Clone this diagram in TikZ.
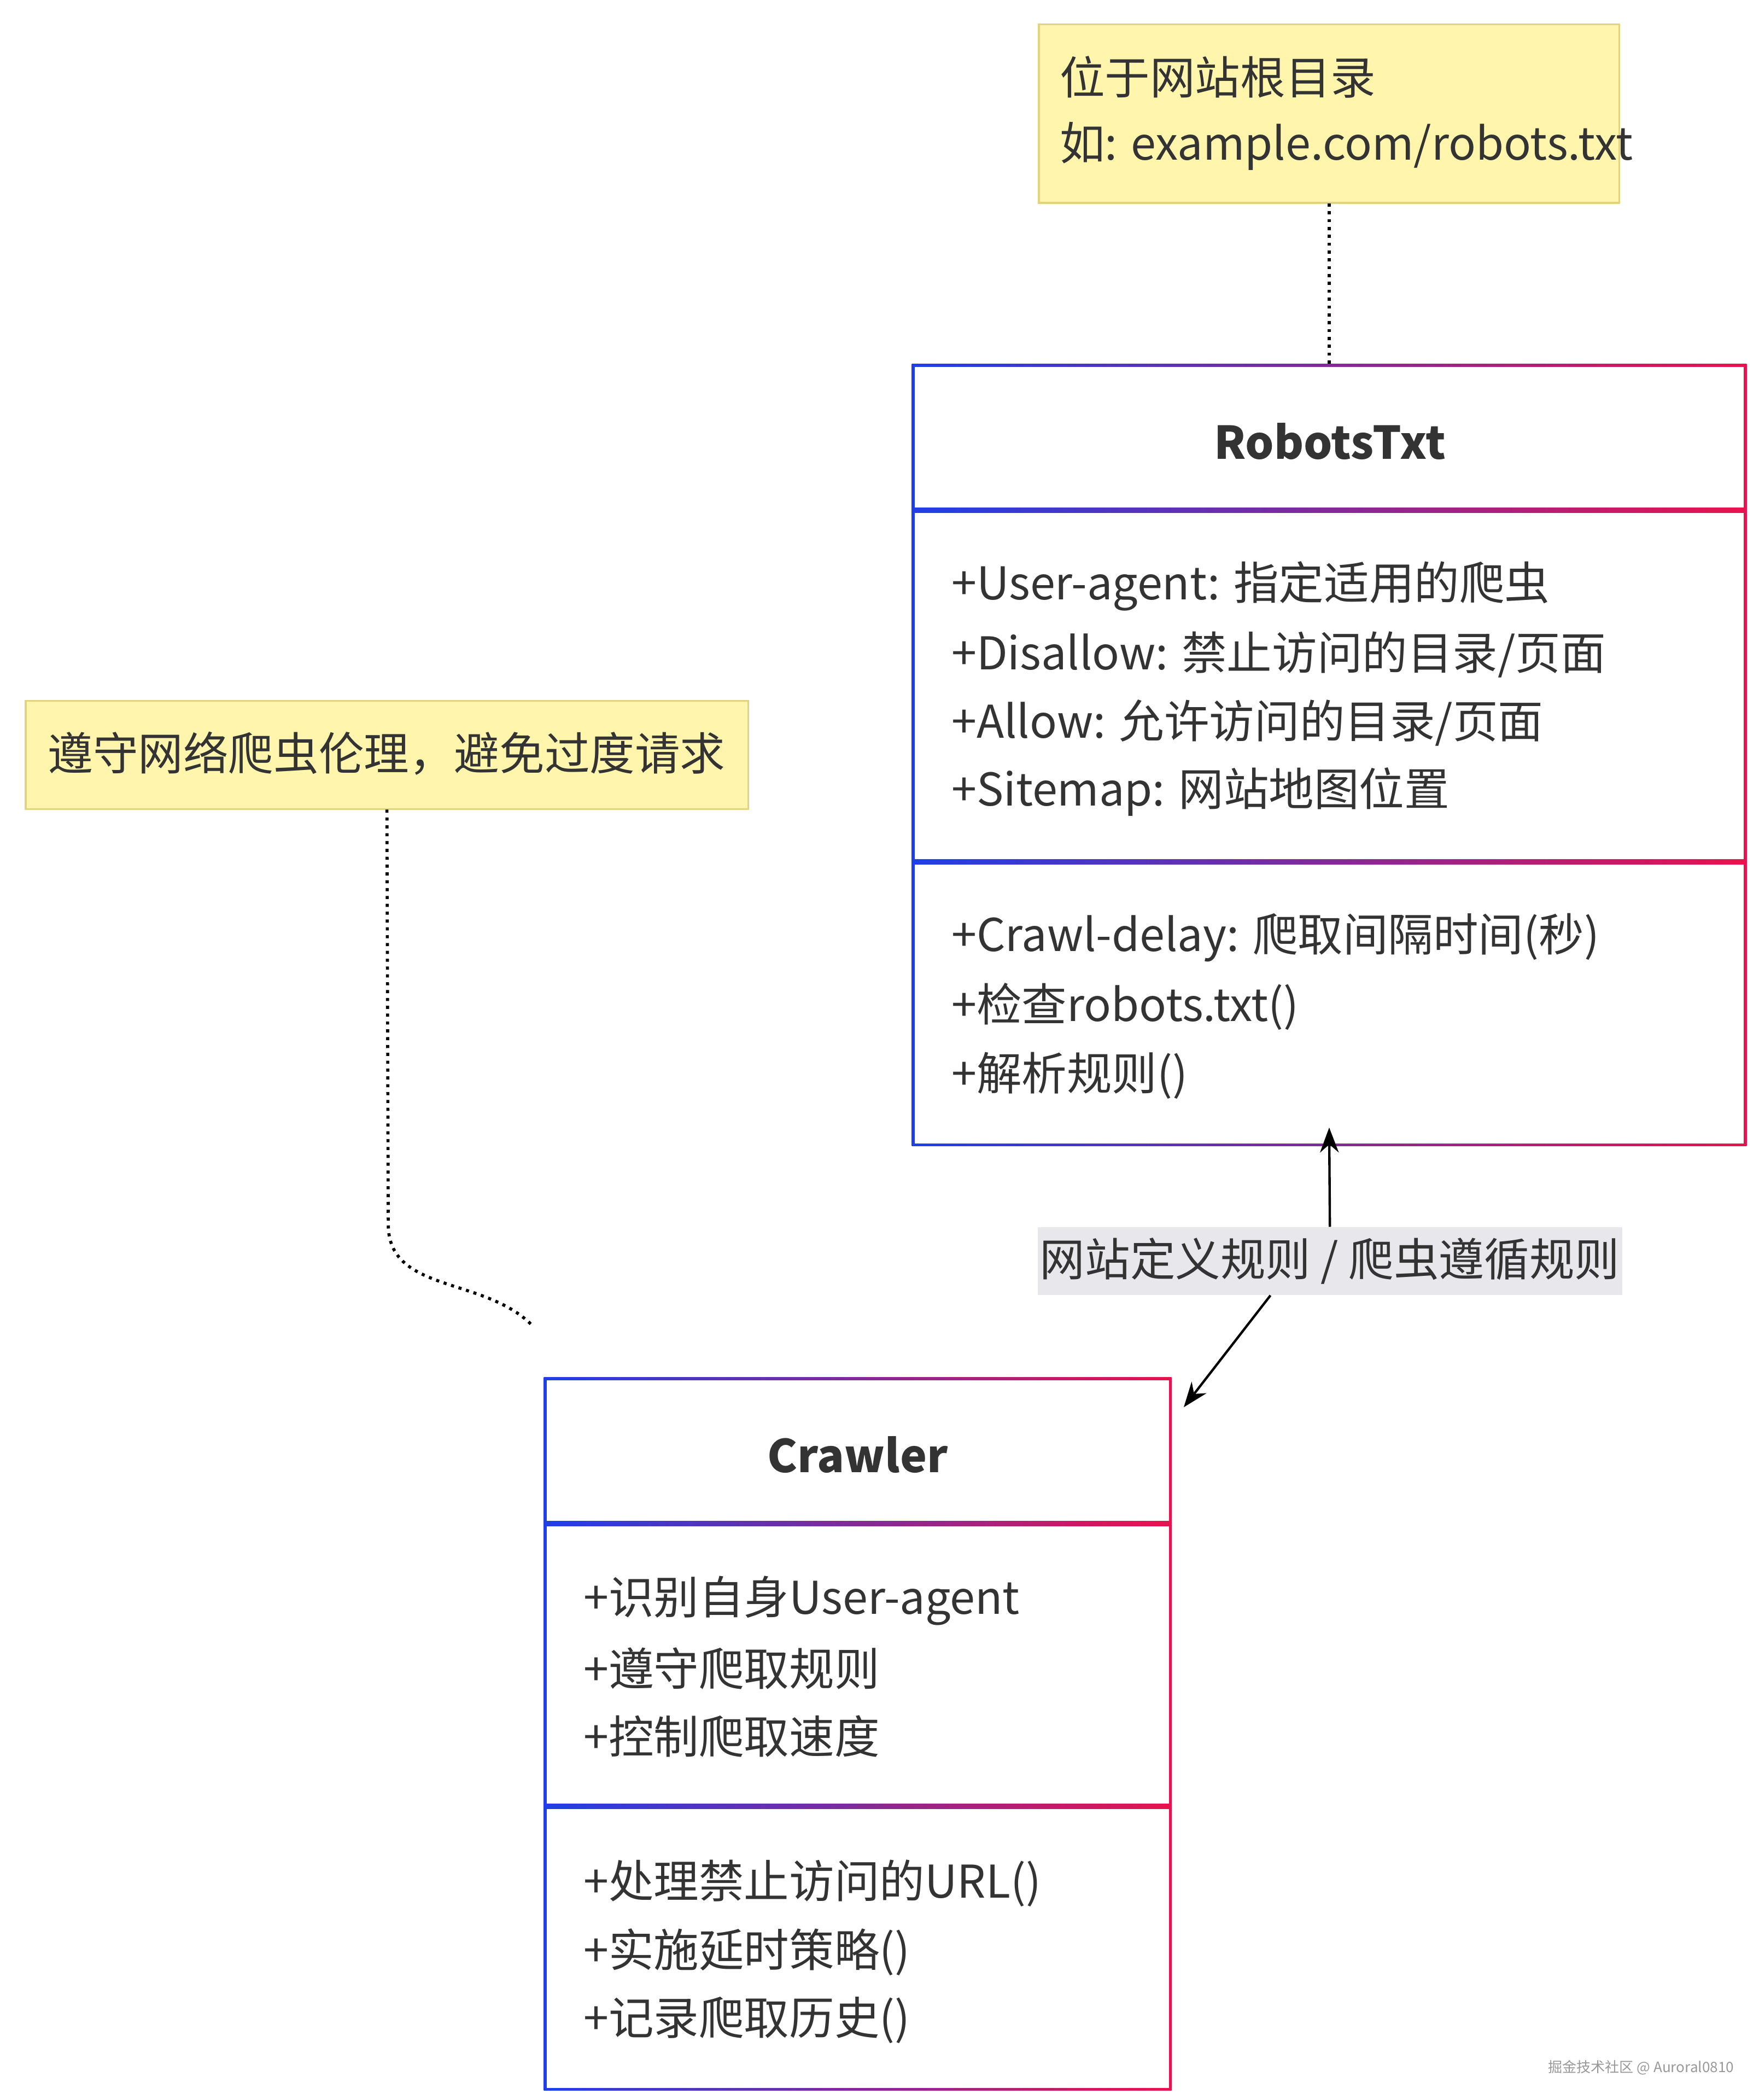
\documentclass[tikz,border=0pt]{standalone}
\usepackage{fontspec}
\setmainfont{Noto Sans CJK SC}
\usetikzlibrary{positioning,fit,arrows.meta}
\definecolor{boxblue}{HTML}{1F3FE6}
\definecolor{boxred}{HTML}{E8134E}
\definecolor{notefill}{HTML}{FFF5AD}
\definecolor{noteline}{HTML}{E3D27E}
\definecolor{txt}{HTML}{333333}
\definecolor{lblfill}{HTML}{E8E8EC}
\tikzset{>={Stealth[scale=1.4]}}
\tikzset{
  entry/.style={anchor=west, text=txt, inner sep=0, font=\fontsize{19}{23}\selectfont},
  title/.style={text=txt, inner sep=0, font=\fontsize{19}{23}\selectfont\bfseries},
  note/.style={draw=noteline, fill=notefill, line width=0.8pt},
  link/.style={black, line width=1pt},
  dots/.style={link, line width=1.3pt, dash pattern=on 1.3pt off 2pt},
}
\begin{document}
\begin{tikzpicture}[x=0.02cm, y=-0.02cm]
    \useasboundingbox[fill=white] (0,0) rectangle (1300,1552);

    % notes
    \draw[note] (768,18) rectangle (1197,150);
    \node(noteRoot)[fit={(768,18) (1197,150)}, inner sep=0]{};
    \node(root1)[entry] at (783,57){位于网站根目录};
    \node(root2)[entry] at (783,108){如: example.com/robots.txt};

    \draw[note] (19,518) rectangle (553,598);
    \node(noteEthic)[fit={(19,518) (553,598)}, inner sep=0]{};
    \node(ethic)[entry] at (35,557){遵守网络爬虫伦理，避免过度请求};

    % RobotsTxt class
    \shade[left color=boxblue, right color=boxred] (674,269) rectangle (1291,847);
    \fill[white] (676,271) rectangle (1289,375);
    \fill[white] (676,379) rectangle (1289,635);
    \fill[white] (676,639) rectangle (1289,845);
    \node(robots)[fit={(674,269) (1291,847)}, inner sep=0]{};
    \node(robotsTitle)[title] at (983,326){RobotsTxt};
    \foreach \txt [count=\i] in {+User-agent: 指定适用的爬虫, +Disallow: 禁止访问的目录/页面, +Allow: 允许访问的目录/页面, +Sitemap: 网站地图位置}{
        \node(robotsAttr\i)[entry] at (703,{433+(\i-1)*50.7}){\txt};
    };
    \foreach \txt [count=\i] in {+Crawl-delay: 爬取间隔时间(秒), +检查robots.txt(), +解析规则()}{
        \node(robotsOp\i)[entry] at (703,{693+(\i-1)*51}){\txt};
    };

    % Crawler class
    \shade[left color=boxblue, right color=boxred] (402,1018) rectangle (866,1545);
    \fill[white] (404,1020) rectangle (864,1124);
    \fill[white] (404,1128) rectangle (864,1333);
    \fill[white] (404,1337) rectangle (864,1543);
    \node(crawler)[fit={(402,1018) (866,1545)}, inner sep=0]{};
    \node(crawlerTitle)[title] at (634,1075){Crawler};
    \foreach \txt [count=\i] in {+识别自身User-agent, +遵守爬取规则, +控制爬取速度}{
        \node(crawlerAttr\i)[entry] at (431,{1183+(\i-1)*50}){\txt};
    };
    \foreach \txt [count=\i] in {+处理禁止访问的URL(), +实施延时策略(), +记录爬取历史()}{
        \node(crawlerOp\i)[entry] at (431,{1392+(\i-1)*50.5}){\txt};
    };

    % connectors
    \draw[dots] (noteRoot.south) -- (robots.north);
    \coordinate(bend) at (287,905);
    \draw[dots] (noteEthic.south) -- (bend) to[out=-90, in=135] ([xshift=-5, yshift=22]crawler.north west);

    \node(rel)[fill=lblfill, text=txt, font=\fontsize{19}{23}\selectfont, minimum width=432*0.02cm, minimum height=50*0.02cm, inner sep=0] at (983,932){网站定义规则 / 爬虫遵循规则};
    \draw[link, ->] (rel.north) -- ([yshift=8]robots.south);
    \draw[link, ->] ([xshift=-25]rel.south) -- (875,1040);

    \node(mark)[text=gray!80, font=\fontsize{6}{7}\selectfont, inner sep=0] at (1213,1528){掘金技术社区 @ Auroral0810};
\end{tikzpicture}
\end{document}
